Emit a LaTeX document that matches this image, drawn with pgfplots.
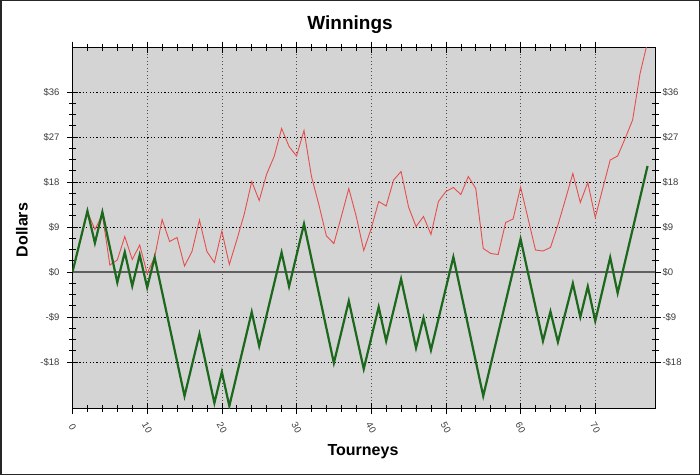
\documentclass[border=0pt]{standalone}
\usepackage{pgfplots}
\pgfplotsset{compat=1.18}
\usepackage{fontspec}
\setmainfont{Liberation Sans}
\definecolor{bg}{RGB}{212,212,212}
\definecolor{gline}{RGB}{28,104,28}
\definecolor{rline}{RGB}{230,78,78}
\definecolor{zline}{RGB}{95,95,95}
\definecolor{tlab}{RGB}{60,60,60}
\begin{document}
\begin{tikzpicture}[x=1pt,y=1pt]
\useasboundingbox (0,0) rectangle (700,475);
\fill[white] (0,0) rectangle (700,475);
\draw[line width=1.5pt, black!85] (0.75,0.75) rectangle (699.25,474.25);
\node[font=\bfseries\fontsize{19}{22}\selectfont] at (350,450) {Winnings};
\node[font=\bfseries\fontsize{16}{19}\selectfont, rotate=90] at (22,245) {Dollars};
\node[font=\bfseries\fontsize{16}{19}\selectfont] at (363,23) {Tourneys};
\begin{axis}[
  at={(72.5pt,67pt)}, anchor=south west, scale only axis,
  width=582.5pt, height=361pt,
  xmin=0, xmax=78, ymin=-27.2, ymax=45,
  axis background/.style={fill=bg},
  axis line style={black, line width=0.8pt},
  xtick={0,10,...,70}, minor x tick num=4,
  ytick={-18,-9,0,9,18,27,36}, minor y tick num=3,
  yticklabels={-\$18,-\$9,\$0,\$9,\$18,\$27,\$36},
  tick pos=both,
  tick align=center, major tick length=11pt, minor tick length=7pt,
  every tick/.style={black, line width=0.6pt},
  /pgf/number format/assume math mode=true,
  ticklabel style={font=\fontsize{9.5}{11}\selectfont, text=tlab},
  yticklabel style={xshift=-4pt},
  xticklabel style={yshift=-14pt, rotate=-60, anchor=center},
  xmajorgrids, ymajorgrids,
  major y grid style={black, line width=0.6pt, dash pattern=on 1.2pt off 2.2pt},
  major x grid style={black!70, line width=0.6pt, dash pattern=on 1pt off 2.5pt},
  clip=true,
]
\addplot[zline, line width=1.8pt] coordinates {(0,0) (78,0)};
\addplot[rline, line width=0.9pt] coordinates {
(0,0) (1,6) (2,12) (3,8.5) (4,11.5) (5,1.4) (6,2.4) (7,7.1) (8,2.5) (9,5.4)
(10,-0.3) (11,3) (12,10.5) (13,6.1) (14,6.9) (15,1.2) (16,4.1) (17,10.4) (18,4.1) (19,1.9)
(20,8.2) (21,1.5) (22,6.4) (23,11.6) (24,18.1) (25,14.3) (26,19.6) (27,23.1) (28,28.7) (29,25.1)
(30,23.2) (31,28.3) (32,19.1) (33,13.4) (34,7.2) (35,5.7) (36,11.1) (37,16.7) (38,11.1) (39,4.3)
(40,8.7) (41,14.1) (42,13.2) (43,18.4) (44,20.1) (45,13) (46,9.1) (47,11.1) (48,7.5) (49,14.1)
(50,16.1) (51,16.9) (52,15.5) (53,19.1) (54,16.7) (55,4.7) (56,3.7) (57,3.5) (58,9.9) (59,10.6)
(60,17) (61,10.7) (62,4.4) (63,4.2) (64,4.9) (65,9.4) (66,14.5) (67,19.7) (68,13.9) (69,17.9)
(70,10.9) (71,16.7) (72,22.4) (73,23.2) (74,26.7) (75,30.4) (76,39.7) (77,46)
};
\addplot[gline, line width=2.2pt] coordinates {
(0,0) (2,12.2) (3,5.8) (4,12) (6,-2.1) (7,4) (8,-2.8) (9,3.4) (10,-3.1) (11,2.9)
(15,-24.8) (17,-12.4) (19,-26.2) (20,-20) (21,-26.8) (24,-8) (25,-14.8) (28,3.9) (29,-2.9)
(31,9.6) (35,-18.2) (37,-5.8) (39,-19.4) (41,-7) (42,-13.8) (44,-1.4) (46,-15.2) (47,-9.2)
(48,-15.6) (51,3) (55,-24.8) (60,6.6) (63,-13.8) (64,-7.9) (65,-14) (67,-2.3) (68,-9)
(69,-2.9) (70,-9.8) (72,2.9) (73,-4.2) (77,21.2)
};
\end{axis}
\begin{axis}[
  at={(72.5pt,67pt)}, anchor=south west, scale only axis,
  width=582.5pt, height=361pt,
  xmin=0, xmax=78, ymin=-27.2, ymax=45,
  axis line style={draw=none},
  xtick=\empty,
  ytick={-18,-9,0,9,18,27,36},
  yticklabels={-\$18,-\$9,\$0,\$9,\$18,\$27,\$36},
  yticklabel pos=right,
  major tick length=0pt,
  ticklabel style={font=\fontsize{9.5}{11}\selectfont, text=tlab},
  yticklabel style={xshift=4pt},
]
\end{axis}
\end{tikzpicture}
\end{document}
